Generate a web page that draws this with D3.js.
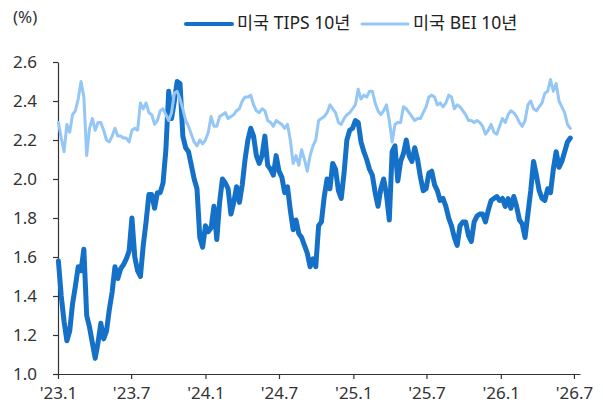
<!DOCTYPE html>
<html><head><meta charset="utf-8">
<script src="https://cdn.jsdelivr.net/npm/d3@7"></script>
<style>
html,body{margin:0;padding:0;background:#fff;}
text{font-family:"Noto Sans","Noto Sans CJK KR",sans-serif;}
</style></head>
<body><svg id="c" width="603" height="406"></svg>
<script>
// ---- data (weekly, starting Monday 2023-01-02) ----
const startDate = "2023-01-02";
const seriesNames = ["미국 TIPS 10년", "미국 BEI 10년"];
const tips = [
1.58,1.40,1.27,1.17,1.22,1.36,1.45,1.55,1.53,1.64,
1.30,1.24,1.16,1.08,1.16,1.26,1.18,1.22,1.33,1.42,
1.55,1.49,1.54,1.56,1.59,1.63,1.80,1.60,1.53,1.50,
1.66,1.78,1.92,1.92,1.85,1.93,1.93,1.98,2.15,2.45,
2.31,2.40,2.50,2.49,2.22,2.16,2.14,2.07,2.00,1.95,
1.70,1.65,1.76,1.73,1.75,1.86,1.69,1.88,2.00,1.98,
1.95,1.82,1.88,1.96,1.88,1.97,2.10,2.20,2.26,2.22,
2.12,2.08,2.12,2.22,2.07,2.05,2.02,2.12,2.04,2.01,
1.93,1.96,1.84,1.74,1.79,1.72,1.70,1.66,1.62,1.55,
1.59,1.55,1.76,1.78,1.91,2.00,1.95,2.08,2.05,1.94,
1.90,2.03,2.20,2.25,2.26,2.30,2.29,2.19,2.14,2.10,
2.05,2.02,1.93,1.86,1.95,2.00,1.92,1.79,2.14,2.17,
1.99,2.09,2.13,2.20,2.12,2.09,2.16,2.10,2.01,1.94,
1.95,2.03,2.04,1.97,1.94,1.89,1.90,1.86,1.80,1.76,
1.70,1.66,1.76,1.78,1.78,1.71,1.68,1.78,1.81,1.82,
1.82,1.78,1.84,1.89,1.90,1.91,1.89,1.90,1.86,1.90,
1.85,1.91,1.86,1.79,1.77,1.70,1.82,1.94,2.09,2.02,
1.94,1.90,1.89,1.95,1.93,2.05,2.14,2.06,2.09,2.14,
2.19,2.21];
const bei = [
2.29,2.21,2.14,2.28,2.24,2.33,2.35,2.41,2.50,2.42,
2.12,2.26,2.31,2.25,2.29,2.29,2.25,2.20,2.19,2.22,
2.26,2.22,2.22,2.21,2.21,2.19,2.25,2.26,2.25,2.39,
2.36,2.39,2.34,2.33,2.28,2.30,2.35,2.36,2.33,2.30,
2.34,2.44,2.45,2.41,2.36,2.30,2.27,2.23,2.19,2.17,
2.20,2.18,2.20,2.24,2.32,2.27,2.27,2.32,2.33,2.34,
2.31,2.32,2.33,2.35,2.36,2.40,2.42,2.42,2.43,2.38,
2.35,2.34,2.36,2.35,2.30,2.29,2.27,2.30,2.29,2.28,
2.26,2.28,2.20,2.08,2.12,2.07,2.15,2.10,2.04,2.12,
2.17,2.20,2.30,2.31,2.32,2.34,2.38,2.36,2.34,2.29,
2.28,2.31,2.33,2.34,2.36,2.38,2.46,2.41,2.43,2.42,
2.45,2.45,2.39,2.35,2.33,2.35,2.38,2.30,2.19,2.28,
2.29,2.29,2.37,2.36,2.34,2.32,2.30,2.31,2.31,2.34,
2.37,2.42,2.43,2.42,2.38,2.39,2.37,2.39,2.43,2.42,
2.36,2.38,2.37,2.35,2.33,2.30,2.30,2.29,2.30,2.29,
2.27,2.23,2.25,2.28,2.24,2.23,2.27,2.31,2.29,2.33,
2.35,2.34,2.32,2.29,2.27,2.30,2.38,2.40,2.36,2.35,
2.37,2.39,2.44,2.45,2.51,2.45,2.49,2.40,2.37,2.34,
2.28,2.26];
const xTickDates = ["2023-01-01","2023-07-01","2024-01-01","2024-07-01","2025-01-01","2025-07-01","2026-01-01","2026-07-01"];
const xTickLabels = ["'23.1","'23.7","'24.1","'24.7","'25.1","'25.7","'26.1","'26.7"];
const yTicks = [1.0,1.2,1.4,1.6,1.8,2.0,2.2,2.4,2.6];

// ---- chart ----
const parse = d3.timeParse("%Y-%m-%d");
const t0 = parse(startDate);
const dates = tips.map((_, i) => d3.timeDay.offset(t0, i * 7));

const svg = d3.select("#c");
const x = d3.scaleTime().domain([parse("2023-01-01"), parse("2026-07-16")]).range([58, 580]);
const y = d3.scaleLinear().domain([1.0, 2.6]).range([374, 62]);

const axisColor = "#333";
const numFont = "'Noto Sans','Noto Sans CJK KR',sans-serif";
// y axis
const gy = svg.append("g").attr("transform", "translate(58,0)")
  .call(d3.axisLeft(y).tickValues(yTicks).tickFormat(d3.format(".1f")).tickSize(5).tickSizeOuter(0).tickPadding(16));
gy.select(".domain").attr("stroke", axisColor).attr("stroke-width", 1.2);
gy.selectAll(".tick line").attr("stroke", axisColor).attr("stroke-width", 1.2);
gy.selectAll(".tick text").attr("fill", "#333").attr("font-size", 17).attr("font-family", numFont);

// x axis
const gx = svg.append("g").attr("transform", "translate(0,374)")
  .call(d3.axisBottom(x).tickValues(xTickDates.map(parse))
    .tickFormat((d, i) => xTickLabels[i]).tickSize(5).tickSizeOuter(0).tickPadding(8));
gx.select(".domain").attr("stroke", axisColor).attr("stroke-width", 1.2);
gx.selectAll(".tick line").attr("stroke", axisColor).attr("stroke-width", 1.2);
gx.selectAll(".tick text").attr("fill", "#333").attr("font-size", 17).attr("font-family", numFont);

// unit label
svg.append("text").attr("x", 13).attr("y", 18).attr("dominant-baseline", "middle")
  .attr("font-size", 17).attr("fill", "#333").attr("font-family", numFont).text("(%)");

const line = d3.line().x((d, i) => x(dates[i])).y(d => y(d)).curve(d3.curveLinear);
const colTips = "#1570C8", colBei = "#94C6F6";

svg.append("path").datum(tips).attr("d", line).attr("fill", "none")
  .attr("stroke", colTips).attr("stroke-width", 5).attr("stroke-linejoin", "round").attr("stroke-linecap", "round");
svg.append("path").datum(bei).attr("d", line).attr("fill", "none")
  .attr("stroke", colBei).attr("stroke-width", 3).attr("stroke-linejoin", "round").attr("stroke-linecap", "round");

// legend
const legend = [
  {name: seriesNames[0], color: colTips, w: 4, x0: 186},
  {name: seriesNames[1], color: colBei, w: 3, x0: 362}
];
legend.forEach(l => {
  svg.append("line").attr("x1", l.x0).attr("x2", l.x0 + 46).attr("y1", 24).attr("y2", 24)
    .attr("stroke", l.color).attr("stroke-width", l.w).attr("stroke-linecap", "round");
  svg.append("text").attr("x", l.x0 + 51).attr("y", 24).attr("dominant-baseline", "middle")
    .attr("font-size", 17.5).attr("fill", "#222")
    .attr("font-family", "'Noto Sans CJK KR',sans-serif").text(l.name);
});
</script></body></html>
